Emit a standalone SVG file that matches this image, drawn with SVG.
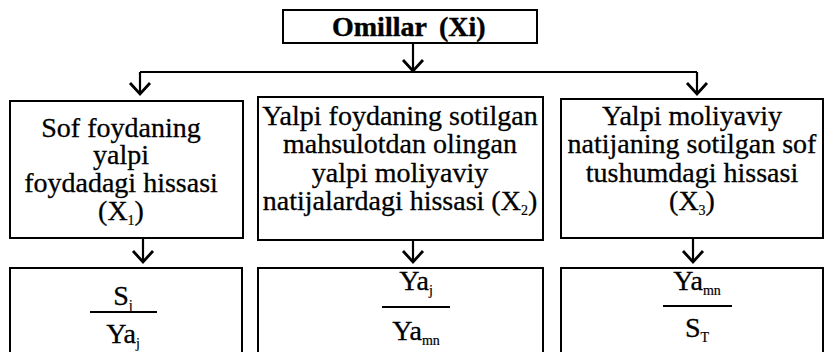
<svg xmlns="http://www.w3.org/2000/svg" width="824" height="352" viewBox="0 0 824 352">
<style>
.box{fill:#fff;stroke:#000;stroke-width:2}
.t{font-family:"Liberation Serif","Times New Roman",serif;font-size:28px;fill:#000;stroke:#000;stroke-width:0.3;text-anchor:middle}
.b{font-weight:bold;text-anchor:start;stroke-width:0.4}
.s{font-size:14px;stroke-width:0.2}
.c{fill:none;stroke:#000;stroke-width:2.2}
.h{fill:none;stroke:#000;stroke-width:2.8}
</style>
<rect width="824" height="352" fill="#fff"/>
<g id="connectors">
<g class="c">
<path d="M413,43 V71"/>
<path d="M140,72 H697"/>
<path d="M140,72 V94"/>
<path d="M697,72 V94"/>
<path d="M143,238 V262"/>
<path d="M413,240 V262"/>
<path d="M693,238 V262"/>
</g>
<g class="h">
<path d="M403,60 L413,71 L423,60"/>
<path d="M130,83 L140,94 L150,83"/>
<path d="M687,83 L697,94 L707,83"/>
<path d="M133,251 L143,262 L153,251"/>
<path d="M403,251 L413,262 L423,251"/>
<path d="M683,251 L693,262 L703,251"/>
</g>
</g>
<g id="top">
<rect class="box" x="283" y="10" width="254" height="33"/>
<text class="t b" x="332" y="36" font-size="29">Omillar</text>
<text class="t b" x="439" y="36" font-size="29">(Xi)</text>
</g>
<g id="x1">
<rect class="box" x="10" y="101" width="233" height="137"/>
<text class="t" x="121" y="137">Sof foydaning</text>
<text class="t" x="121" y="164">yalpi</text>
<text class="t" x="121" y="192">foydadagi hissasi</text>
<text class="t" x="121" y="220">(X<tspan class="s" dy="5">1</tspan><tspan dy="-5">)</tspan></text>
</g>
<g id="x2">
<rect class="box" x="258" y="97" width="285" height="143"/>
<text class="t" x="400" y="125">Yalpi foydaning sotilgan</text>
<text class="t" x="400" y="153">mahsulotdan olingan</text>
<text class="t" x="400" y="182">yalpi moliyaviy</text>
<text class="t" x="400" y="210">natijalardagi hissasi (X<tspan class="s" dy="5">2</tspan><tspan dy="-5">)</tspan></text>
</g>
<g id="x3">
<rect class="box" x="561" y="99" width="262" height="139"/>
<text class="t" x="692" y="125">Yalpi moliyaviy</text>
<text class="t" x="692" y="153">natijaning sotilgan sof</text>
<text class="t" x="692" y="182">tushumdagi hissasi</text>
<text class="t" x="692" y="210">(X<tspan class="s" dy="5">3</tspan><tspan dy="-5">)</tspan></text>
</g>
<g id="f1">
<rect class="box" x="10" y="268" width="232" height="100"/>
<text class="t" x="123" y="305">S<tspan class="s" dy="5">j</tspan></text>
<path class="c" d="M90,312 H157"/>
<text class="t" x="123" y="343">Ya<tspan class="s" dy="5">j</tspan></text>
</g>
<g id="f2">
<rect class="box" x="258" y="268" width="285" height="100"/>
<text class="t" x="416" y="290">Ya<tspan class="s" dy="5">j</tspan></text>
<path class="c" d="M382,307 H450"/>
<text class="t" x="416" y="340">Ya<tspan class="s" dy="5">mn</tspan></text>
</g>
<g id="f3">
<rect class="box" x="561" y="268" width="262" height="100"/>
<text class="t" x="697" y="290">Ya<tspan class="s" dy="5">mn</tspan></text>
<path class="c" d="M663,306 H732"/>
<text class="t" x="697" y="337">S<tspan class="s" dy="5">T</tspan></text>
</g>
</svg>
